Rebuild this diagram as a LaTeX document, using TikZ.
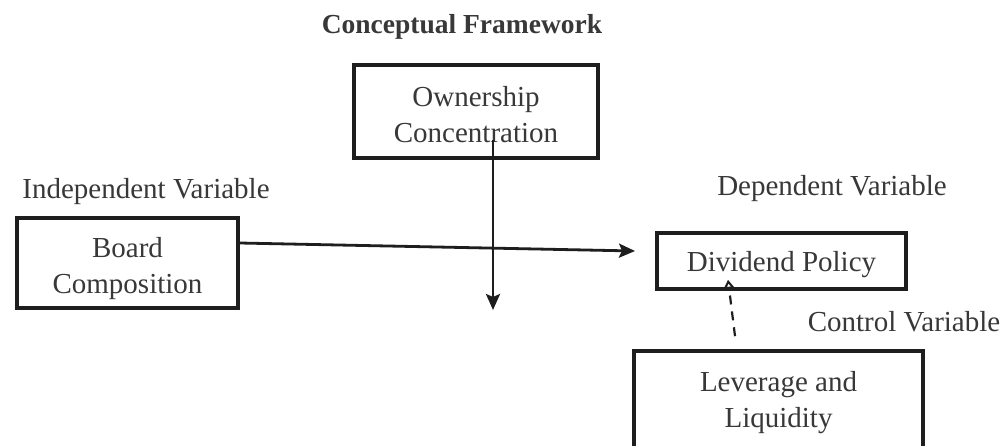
\documentclass[tikz,border=0pt]{standalone}
\usepackage{fontspec}
\setmainfont{Liberation Serif}
\usepackage{tikz}
\usetikzlibrary{positioning,calc,arrows.meta}

\definecolor{inkbox}{HTML}{1E1E1E}
\definecolor{inktext}{HTML}{383838}

% invisible strut that lowers the first line of a box
\newcommand{\liftline}[1]{\rule{0pt}{#1}}

\tikzset{
  varbox/.style={draw=inkbox, line width=3.6pt, inner sep=0pt, align=center,
    text=inktext, font=\fontsize{29}{36}\selectfont},
  vartag/.style={anchor=base, text=inktext, inner sep=0pt, font=\fontsize{29}{36}\selectfont},
  link/.style={draw=inkbox, line width=2.8pt, -{Stealth[length=16pt,width=14pt,inset=3pt]}},
  ctrl/.style={draw=inkbox, line width=2.2pt, dash pattern=on 9pt off 7pt,
    -{Triangle[open,length=9pt,width=11pt,line width=2pt]}}
}

\begin{document}
\begin{tikzpicture}[x=1pt, y=-1pt]
    \clip (0,0) rectangle (1008,445);
    \fill[white] (0,0) rectangle (1008,445);

    % Title
    \node[vartag, font=\fontsize{27.5}{33}\selectfont\bfseries] (title) at (462,33) {Conceptual Framework};

    % Boxes
    \node[varbox, minimum width=244pt, minimum height=93pt] (own) at (476,111.5) {\liftline{27pt}Ownership\\Concentration};
    \node[varbox, minimum width=221pt, minimum height=90pt] (board) at (127.5,263) {\liftline{31pt}Board\\Composition};
    \node[varbox, minimum width=249pt, minimum height=56pt] (div) at (781.5,261) {\liftline{28pt}Dividend Policy};
    \node[varbox, minimum width=289pt, minimum height=104pt] (lev) at (778.5,403) {Leverage and\\Liquidity};

    % Tags
    \node[vartag] (indep) at (146,198) {Independent Variable};
    \node[vartag] (dep) at (832,195) {Dependent Variable};
    \node[vartag] (ctrltag) at (904,331) {Control Variable};

    % Connections
    \coordinate (ownend) at (493,310);
    \coordinate (divin) at (635,251);
    \draw[link] ([xshift=17pt, yshift=20pt]own.south) -- (ownend); % moderator
    \draw[link] ([yshift=20pt]board.east) -- (divin); % main effect
    \draw[ctrl] ([xshift=-43.5pt, yshift=13pt]lev.north) -- ([xshift=-53.5pt, yshift=11pt]div.south); % control
\end{tikzpicture}
\end{document}
